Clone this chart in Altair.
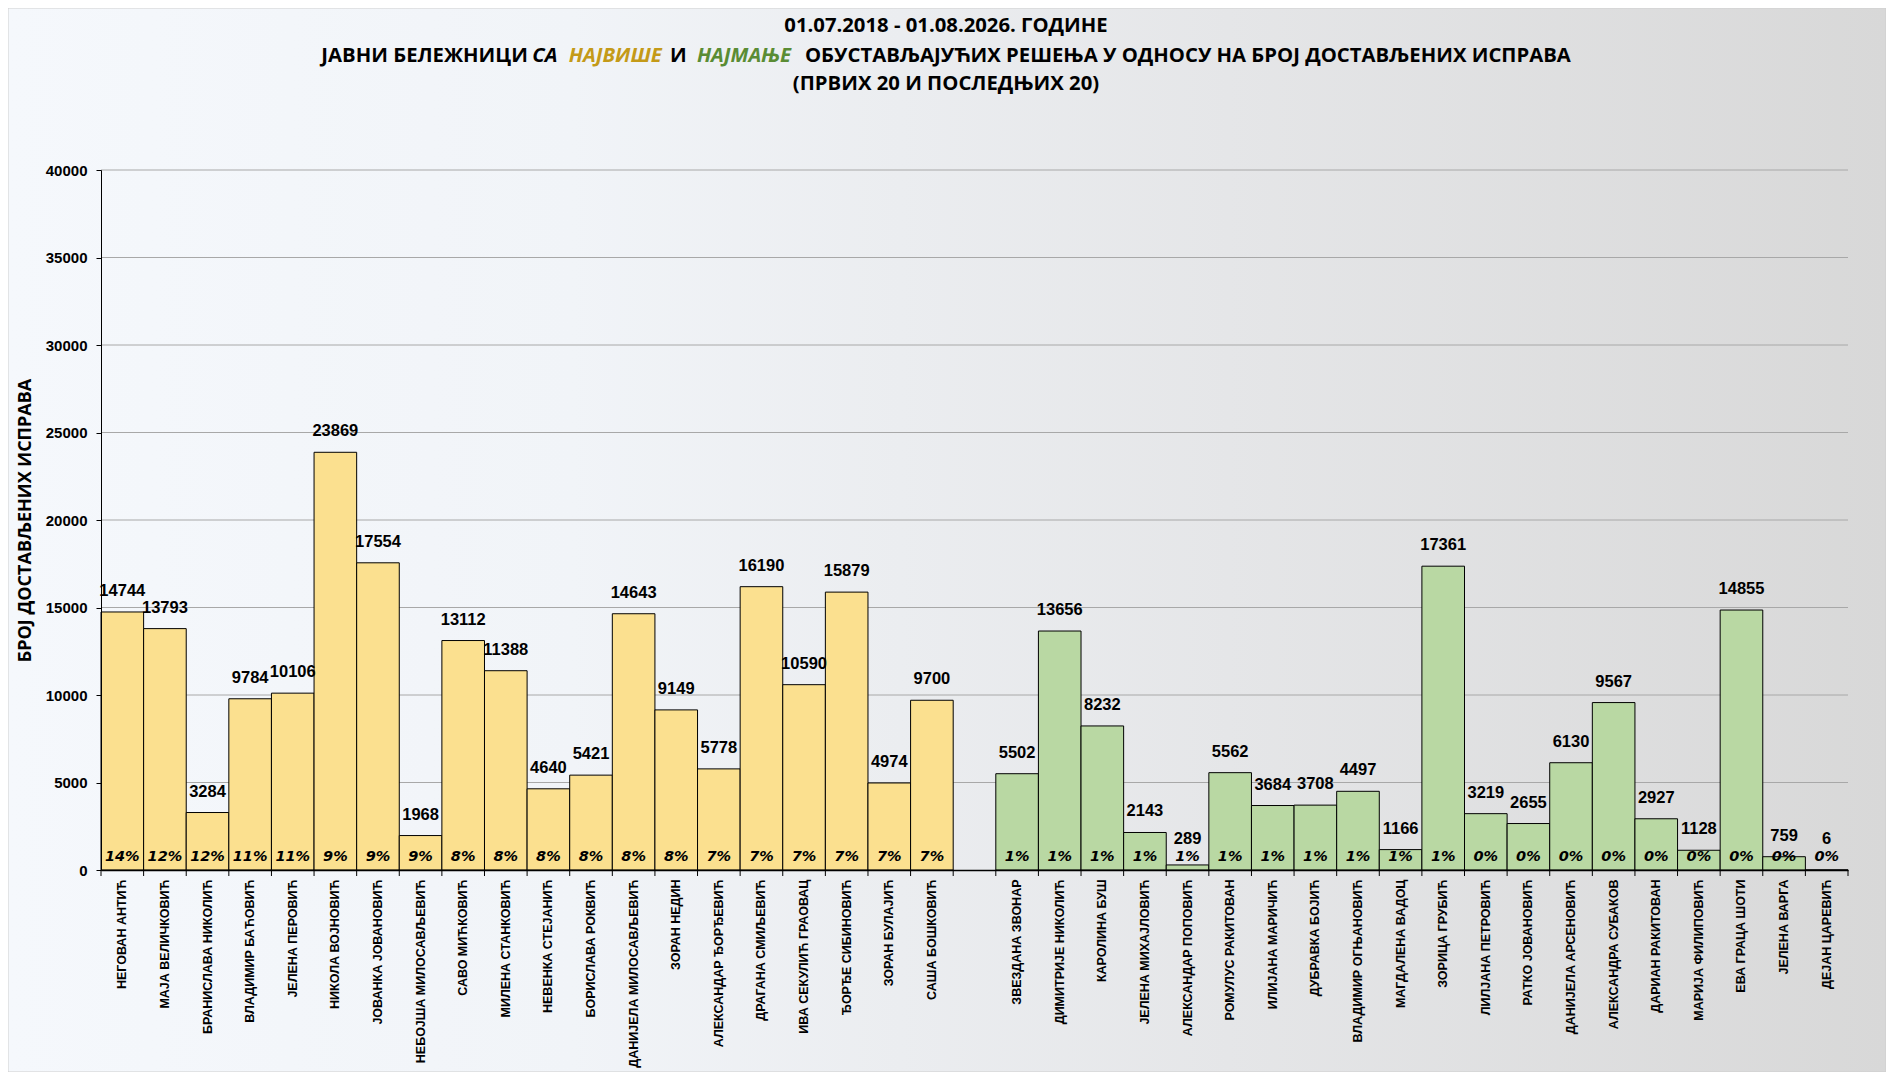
import altair as alt
import pandas as pd

# ---------------- data ----------------
top_names = [
    "НЕГОВАН АНТИЋ", "МАЈА ВЕЛИЧКОВИЋ", "БРАНИСЛАВА НИКОЛИЋ", "ВЛАДИМИР БАЋОВИЋ",
    "ЈЕЛЕНА ПЕРОВИЋ", "НИКОЛА ВОЈНОВИЋ", "ЈОВАНКА ЈОВАНОВИЋ", "НЕБОЈША МИЛОСАВЉЕВИЋ",
    "САВО МИЋКОВИЋ", "МИЛЕНА СТАНКОВИЋ", "НЕВЕНКА СТЕЈАНИЋ", "БОРИСЛАВА РОКВИЋ",
    "ДАНИЈЕЛА МИЛОСАВЉЕВИЋ", "ЗОРАН НЕДИН", "АЛЕКСАНДАР ЂОРЂЕВИЋ", "ДРАГАНА СМИЉЕВИЋ",
    "ИВА СЕКУЛИЋ ГРАОВАЦ", "ЂОРЂЕ СИБИНОВИЋ", "ЗОРАН БУЛАЈИЋ", "САША БОШКОВИЋ",
]
top_values = [14744, 13793, 3284, 9784, 10106, 23869, 17554, 1968, 13112, 11388,
              4640, 5421, 14643, 9149, 5778, 16190, 10590, 15879, 4974, 9700]
top_pcts = ["14%", "12%", "12%", "11%", "11%", "9%", "9%", "9%", "8%", "8%",
            "8%", "8%", "8%", "8%", "7%", "7%", "7%", "7%", "7%", "7%"]

bottom_names = [
    "ЗВЕЗДАНА ЗВОНАР", "ДИМИТРИЈЕ НИКОЛИЋ", "КАРОЛИНА БУШ", "ЈЕЛЕНА МИХАЈЛОВИЋ",
    "АЛЕКСАНДАР ПОПОВИЋ", "РОМУЛУС РАКИТОВАН", "ИЛИЈАНА МАРИЧИЋ", "ДУБРАВКА БОЈИЋ",
    "ВЛАДИМИР ОГЊАНОВИЋ", "МАГДАЛЕНА ВАДОЦ", "ЗОРИЦА ГРУБИЋ", "ЛИЛЈАНА ПЕТРОВИЋ",
    "РАТКО ЈОВАНОВИЋ", "ДАНИЈЕЛА АРСЕНОВИЋ", "АЛЕКСАНДРА СУБАКОВ", "ДАРИАН РАКИТОВАН",
    "МАРИЈА ФИЛИПОВИЋ", "ЕВА ГРАЦА ШОТИ", "ЈЕЛЕНА ВАРГА", "ДЕЈАН ЦАРЕВИЋ",
]
bottom_values = [5502, 13656, 8232, 2143, 289, 5562, 3684, 3708, 4497, 1166,
                 17361, 3219, 2655, 6130, 9567, 2927, 1128, 14855, 759, 6]
bottom_pcts = ["1%", "1%", "1%", "1%", "1%", "1%", "1%", "1%", "1%", "1%",
               "1%", "0%", "0%", "0%", "0%", "0%", "0%", "0%", "0%", "0%"]

gap_name = " "
y_ticks = [0, 5000, 10000, 15000, 20000, 25000, 30000, 35000, 40000]

title_line1 = "01.07.2018 - 01.08.2026. ГОДИНЕ"
title_line3 = "(ПРВИХ 20 И ПОСЛЕДЊИХ 20)"
t2_a = "ЈАВНИ БЕЛЕЖНИЦИ"
t2_b = "СА"
t2_c = "НАЈВИШЕ"
t2_d = "И"
t2_e = "НАЈМАЊЕ"
t2_f = "ОБУСТАВЉАЈУЋИХ РЕШЕЊА У ОДНОСУ НА БРОЈ ДОСТАВЉЕНИХ ИСПРАВА"
y_title = "БРОЈ ДОСТАВЉЕНИХ ИСПРАВА"

# ---------------- layout / style ----------------
W, H = 1747, 700
PAD = {"left": 93, "top": 162, "right": 38, "bottom": 202}
YELLOW = "#fbe08f"
GREEN = "#b9d8a3"
GOLD = "#c49a18"
DKGREEN = "#5a8c34"
TITLE_FONT = "Open Sans"
TSIZE = 20.3

domain = top_names + [gap_name] + bottom_names

bars_df = pd.DataFrame({
    "name": top_names + bottom_names,
    "value": top_values + bottom_values,
    "pct": top_pcts + bottom_pcts,
    "group": ["top"] * len(top_names) + ["bottom"] * len(bottom_names),
})
ticks_df = pd.DataFrame({"name": domain})
end_df = pd.DataFrame({"name": [domain[-1]]})
grid_df = pd.DataFrame({"tick": y_ticks[1:]})
one = pd.DataFrame({"k": [0]})

xscale = alt.Scale(domain=domain, paddingInner=0, paddingOuter=0)
xaxis = alt.Axis(
    title=None, labelAngle=-90, labelFont="Liberation Sans", labelFontSize=12.5,
    labelFontWeight="bold", labelColor="black", labelPadding=9, labelLimit=400,
    ticks=False, domainColor="black", domainWidth=1.5, zindex=1,
)
yscale = alt.Scale(domain=[0, 40000], nice=False, zero=True)
yaxis = alt.Axis(
    values=y_ticks, format="d", grid=False, title=y_title,
    titleFont=TITLE_FONT, titleFontSize=18, titleFontWeight="bold", titleColor="black",
    titlePadding=11, labelFont="Liberation Sans", labelFontSize=15,
    labelFontWeight="bold", labelColor="black", labelPadding=9,
    tickSize=5, tickColor="black", domainColor="black", zindex=1,
)


def X(**kw):
    return alt.X("name:N", scale=xscale, axis=xaxis, **kw)


bg = alt.Chart(one).mark_rect(
    fill=alt.LinearGradient(
        gradient="linear", x1=0, x2=1, y1=0, y2=0,
        stops=[
            alt.GradientStop(color="#f5f8fc", offset=0),
            alt.GradientStop(color="#f1f4f8", offset=0.3),
            alt.GradientStop(color="#e5e6e8", offset=0.65),
            alt.GradientStop(color="#d8d8d8", offset=1),
        ],
    ),
    stroke="#cfcfcf", strokeWidth=1,
).encode(
    x=alt.value(-PAD["left"]), x2=alt.value(W + PAD["right"]),
    y=alt.value(-PAD["top"]), y2=alt.value(H + PAD["bottom"]),
)

grid = alt.Chart(grid_df).mark_rule(color="#a8a8a8", strokeWidth=1).encode(
    y=alt.Y("tick:Q", scale=yscale, axis=yaxis),
    x=alt.value(0), x2=alt.value(W),
)

bars = alt.Chart(bars_df).mark_bar(stroke="black", strokeWidth=1, fillOpacity=1).encode(
    x=X(),
    y=alt.Y("value:Q", scale=yscale, axis=yaxis),
    color=alt.Color("group:N", scale=alt.Scale(domain=["top", "bottom"], range=[YELLOW, GREEN]), legend=None),
)

ticks = alt.Chart(ticks_df).mark_rule(color="black", strokeWidth=1).encode(
    x=X(bandPosition=0), y=alt.value(H), y2=alt.value(H + 6),
)
ticks_end = alt.Chart(end_df).mark_rule(color="black", strokeWidth=1).encode(
    x=X(bandPosition=1), y=alt.value(H), y2=alt.value(H + 6),
)

# value labels sit above the bar; very short bars keep them clear of the % labels
vals = alt.Chart(bars_df).transform_calculate(
    label_y="max(datum.value, 600)"
).mark_text(
    font="Liberation Sans", fontSize=16.5, fontWeight="bold", color="black",
    baseline="alphabetic", dy=-16,
).encode(
    x=X(), y=alt.Y("label_y:Q", scale=yscale, axis=yaxis), text=alt.Text("value:Q", format="d"),
)

pcts = alt.Chart(bars_df).mark_text(
    font="DejaVu Sans", fontSize=14.5, fontWeight="bold", fontStyle="italic",
    color="black", baseline="alphabetic", dy=-9,
).encode(x=X(), y=alt.value(H), text="pct:N")


def label(text, x, y, align="center", color="black", style="normal", size=TSIZE):
    return alt.Chart(one).mark_text(
        text=text, font=TITLE_FONT, fontSize=size, fontWeight="bold", fontStyle=style,
        color=color, align=align, baseline="middle",
    ).encode(x=alt.value(x), y=alt.value(y))


# page coords -> plot coords: x - 101, y - 170
titles = [
    label(title_line1, 845, -144.5),
    label(t2_a, 323.6, -114.5),
    label(t2_b, 443.8, -114.5, style="italic"),
    label(t2_c, 514.3, -114.5, color=GOLD, style="italic"),
    label(t2_d, 577.3, -114.5),
    label(t2_e, 643, -114.5, color=DKGREEN, style="italic"),
    label(t2_f, 1086.9, -114.5),
    label(title_line3, 845, -86.5),
]

chart = alt.layer(bg, grid, bars, ticks, ticks_end, vals, pcts, *titles).properties(
    width=W, height=H, padding=PAD, autosize=alt.AutoSizeParams(type="none"),
).configure_view(stroke=None).configure(background="white")

chart.save("out.html", embed_options={"renderer": "svg", "actions": False})
